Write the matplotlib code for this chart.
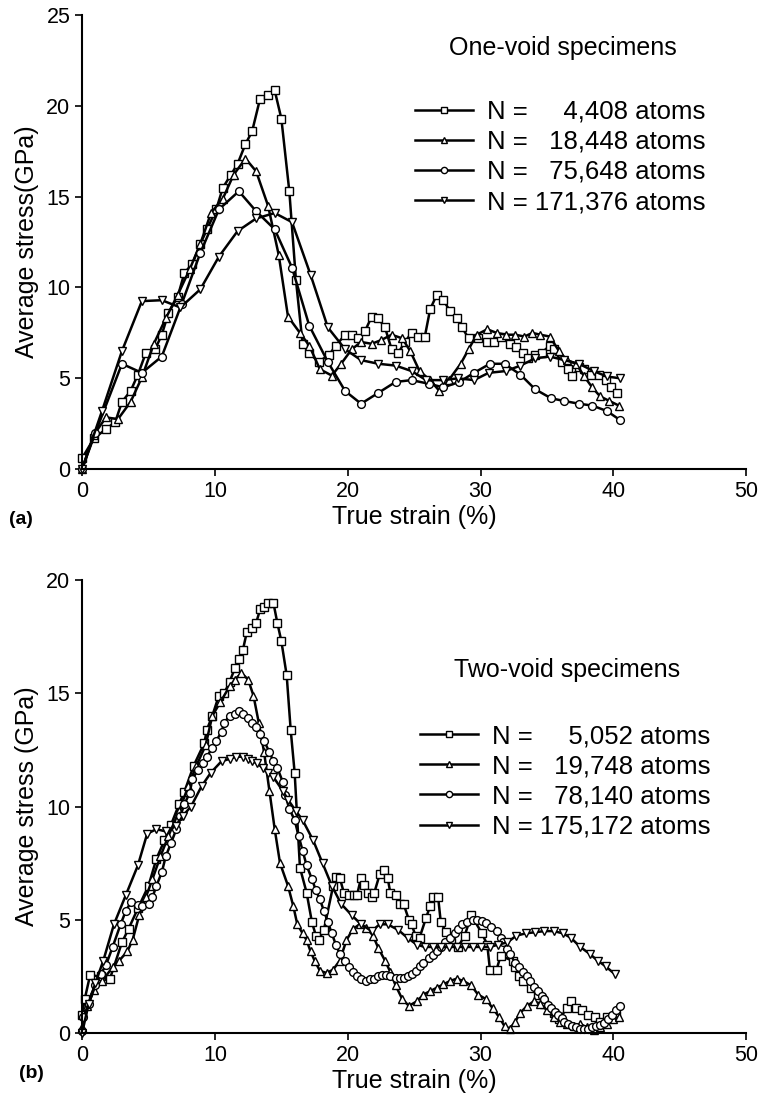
import numpy as np
import matplotlib
matplotlib.use('Agg')
import matplotlib.pyplot as plt

plt.rcParams['font.family'] = ['Liberation Sans', 'DejaVu Sans']

# ---- panel (a): one-void specimens (strain %, stress GPa) ----
a_sq = np.array([
    (0, 0.6), (0.9, 1.7), (1.8, 2.2), (2.5, 2.6), (3.0, 3.7), (3.65, 4.3), (4.2, 5.2), (4.8, 6.4),
    (5.5, 6.6), (6.0, 7.4), (6.5, 8.6), (7.2, 9.5), (7.7, 10.8), (8.3, 11.3), (8.9, 12.4),
    (9.4, 13.2), (10.1, 14.3), (10.6, 15.5), (11.2, 16.2), (11.7, 16.8), (12.3, 17.9),
    (12.8, 18.6), (13.4, 20.4), (14.0, 20.6), (14.5, 20.85), (15.0, 19.3), (15.6, 15.3),
    (16.1, 10.4), (16.6, 6.9), (17.1, 6.4), (17.8, 5.9), (18.6, 6.3), (19.1, 6.8), (19.8, 7.4),
    (20.3, 7.4), (20.8, 7.2), (21.3, 7.6), (21.8, 8.4), (22.3, 8.3), (22.8, 7.8), (23.3, 6.6),
    (23.8, 6.4), (24.3, 7.0), (24.8, 7.5), (25.3, 7.3), (25.8, 7.3), (26.2, 8.8), (26.7, 9.6),
    (27.2, 9.3), (27.7, 8.7), (28.2, 8.3), (28.6, 7.8), (29.1, 7.2), (29.8, 7.2), (30.5, 7.0),
    (31.0, 7.0), (31.5, 7.3), (32.2, 6.9), (32.7, 6.7), (33.2, 6.4), (33.6, 6.1), (34.1, 6.3),
    (34.6, 6.4), (35.2, 6.8), (35.5, 6.6), (36.1, 5.9), (36.6, 5.5), (36.9, 5.1), (37.4, 5.6),
    (37.8, 5.5), (38.3, 5.2), (38.9, 5.2), (39.4, 4.9), (39.8, 4.5), (40.3, 4.2)])
a_tri = np.array([
    (0, 0), (0.9, 1.9), (1.8, 2.85), (2.7, 2.75), (3.65, 3.7), (4.5, 5.05), (5.4, 6.9),
    (6.3, 8.3), (7.2, 9.6), (8.1, 11.0), (8.9, 12.4), (9.7, 14.1), (10.6, 14.9), (11.4, 16.2),
    (12.3, 17.1), (13.1, 16.4), (14.0, 14.5), (14.8, 11.8), (15.5, 8.4), (16.4, 7.5),
    (17.1, 6.8), (17.9, 5.5), (18.8, 5.15), (19.5, 5.8), (20.3, 6.6), (21.0, 7.0), (21.8, 6.9),
    (22.5, 7.1), (23.3, 7.4), (24.1, 7.2), (24.7, 6.5), (25.4, 5.4), (26.2, 4.9), (26.9, 4.3),
    (27.6, 4.9), (28.5, 5.8), (29.1, 6.6), (29.7, 7.4), (30.5, 7.7), (31.2, 7.5), (31.9, 7.4),
    (32.6, 7.4), (33.3, 7.3), (33.9, 7.5), (34.5, 7.4), (35.2, 7.3), (35.9, 6.5), (36.5, 6.0),
    (37.2, 5.8), (37.8, 5.1), (38.4, 4.5), (39.0, 4.0), (39.7, 3.75), (40.4, 3.5)])
a_circ = np.array([
    (0, 0), (1.0, 2.0), (3.0, 5.8), (4.5, 5.3), (6.0, 6.2), (7.5, 9.1), (8.9, 11.9),
    (10.3, 14.3), (11.8, 15.3), (13.1, 14.2), (14.5, 13.2), (15.8, 11.1), (17.1, 7.9),
    (18.5, 5.9), (19.8, 4.3), (21.0, 3.6), (22.3, 4.2), (23.6, 4.8), (24.8, 4.9), (26.1, 4.7),
    (27.2, 4.5), (28.4, 4.8), (29.5, 5.3), (30.7, 5.8), (31.8, 5.8), (33.0, 5.2), (34.1, 4.4),
    (35.3, 3.9), (36.3, 3.75), (37.4, 3.6), (38.4, 3.5), (39.5, 3.2), (40.5, 2.7)])
a_itri = np.array([
    (0, 0), (1.5, 3.2), (3.0, 6.5), (4.5, 9.25), (6.0, 9.3), (7.4, 8.9), (8.9, 9.9),
    (10.3, 11.7), (11.7, 13.1), (13.1, 13.8), (14.5, 14.1), (15.8, 13.6), (17.2, 10.7),
    (18.5, 7.8), (19.8, 6.6), (21.0, 6.0), (22.3, 5.8), (23.6, 5.7), (24.8, 5.4), (25.9, 4.9),
    (27.2, 4.9), (28.3, 5.0), (29.5, 4.9), (30.6, 5.3), (31.9, 5.4), (33.0, 5.7), (34.1, 6.1),
    (35.2, 6.2), (36.3, 6.0), (37.4, 5.8), (38.5, 5.4), (39.5, 5.1), (40.5, 5.0)])
a_labels = ['N =     4,408 atoms', 'N =   18,448 atoms', 'N =   75,648 atoms', 'N = 171,376 atoms']

# ---- panel (b): two-void specimens ----
b_sq = np.array([
    (0, 0.8), (0.2, 1.5), (0.6, 2.55), (1.4, 2.5), (2.1, 2.4), (3.0, 4.0), (3.5, 4.6),
    (4.2, 5.5), (5.0, 6.5), (5.6, 7.7), (6.2, 8.5), (6.7, 9.2), (7.3, 10.1), (7.7, 10.65),
    (8.4, 11.8), (9.2, 12.8), (9.4, 13.4), (9.8, 14.0), (10.3, 14.9), (10.7, 15.0),
    (11.1, 15.5), (11.5, 16.1), (11.8, 16.5), (12.1, 16.9), (12.4, 17.7), (12.8, 17.9),
    (13.1, 18.1), (13.4, 18.7), (13.7, 18.8), (14.0, 19.0), (14.4, 19.0), (14.7, 18.1),
    (15.0, 17.3), (15.4, 15.8), (15.7, 13.4), (16.0, 11.5), (16.4, 7.3), (16.9, 6.2),
    (17.3, 4.9), (17.6, 4.3), (17.8, 4.1), (18.2, 4.55), (18.9, 6.5), (19.1, 6.9), (19.4, 6.85),
    (19.7, 6.2), (20.1, 6.1), (20.5, 6.1), (20.7, 6.1), (21.0, 6.85), (21.2, 6.55), (21.5, 6.2),
    (21.8, 6.0), (22.0, 6.2), (22.4, 7.0), (22.7, 7.2), (23.0, 6.85), (23.2, 6.2), (23.6, 6.1),
    (23.9, 5.7), (24.2, 5.7), (24.6, 5.0), (24.8, 4.8), (25.1, 4.3), (25.4, 4.2), (25.9, 5.1),
    (26.2, 5.6), (26.4, 6.0), (26.8, 6.0), (27.0, 4.9), (27.4, 4.45), (27.8, 4.0), (28.3, 3.8),
    (28.8, 4.3), (29.3, 5.2), (30.1, 4.4), (30.5, 3.9), (30.7, 2.8), (31.2, 2.8), (31.5, 3.4),
    (32.4, 3.2), (32.6, 2.9), (32.9, 2.5), (33.2, 2.3), (33.8, 2.0), (34.3, 1.7), (34.8, 1.3),
    (35.5, 0.9), (35.9, 0.6), (36.5, 1.1), (36.8, 1.4), (37.2, 1.1), (37.6, 1.0), (38.1, 0.8),
    (38.6, 0.7), (39.0, 0.5), (39.5, 0.7), (40.2, 0.8)])
b_tri = np.array([
    (0, 0.25), (0.4, 1.2), (0.9, 1.9), (1.5, 2.3), (2.3, 2.9), (2.8, 3.2), (3.4, 3.6),
    (3.8, 4.1), (4.3, 5.2), (4.8, 6.0), (5.3, 6.8), (5.9, 7.8), (6.5, 8.7), (7.3, 9.8),
    (8.0, 10.9), (8.6, 11.8), (9.3, 12.7), (9.8, 14.0), (10.4, 14.6), (11.1, 15.3),
    (11.5, 15.6), (12.0, 15.9), (12.5, 15.6), (12.9, 14.9), (13.3, 13.7), (13.7, 12.4),
    (14.1, 10.7), (14.5, 9.0), (14.9, 7.5), (15.5, 6.5), (15.9, 5.6), (16.2, 4.8), (16.6, 4.4),
    (16.9, 4.1), (17.2, 3.6), (17.5, 3.2), (17.9, 2.75), (18.4, 2.65), (18.9, 2.8), (19.4, 3.2),
    (19.9, 4.1), (20.4, 4.6), (20.9, 4.8), (21.4, 4.65), (21.9, 4.3), (22.3, 3.75), (22.8, 3.2),
    (23.2, 2.7), (23.6, 2.1), (24.1, 1.5), (24.6, 1.2), (25.2, 1.4), (25.7, 1.7), (26.2, 1.85),
    (26.7, 2.0), (27.2, 2.15), (27.7, 2.3), (28.2, 2.4), (28.7, 2.3), (29.3, 2.1), (29.8, 1.7),
    (30.4, 1.5), (30.9, 1.1), (31.4, 0.7), (31.8, 0.3), (32.2, 0.2), (32.6, 0.5), (33.0, 0.9),
    (33.5, 1.2), (34.0, 1.4), (34.5, 1.3), (35.0, 1.0), (35.5, 0.7), (36.0, 0.5), (36.5, 0.4),
    (37.0, 0.3), (37.5, 0.4), (38.0, 0.25), (38.5, 0.15), (39.0, 0.25), (39.5, 0.4),
    (40.0, 0.6), (40.4, 0.7)])
b_circ = np.array([
    (0, 0.1), (0.1, 0.7), (0.5, 1.3), (1.0, 2.1), (1.4, 2.6), (1.8, 3.0), (2.3, 3.8),
    (2.9, 4.8), (3.3, 5.4), (3.7, 5.8), (4.2, 5.65), (4.5, 5.6), (5.0, 5.7), (5.3, 6.0),
    (5.6, 6.5), (6.0, 7.1), (6.3, 7.8), (6.7, 8.4), (7.1, 9.0), (7.4, 9.6), (7.7, 10.1),
    (8.1, 10.6), (8.3, 11.2), (8.7, 11.6), (9.1, 11.9), (9.4, 12.2), (9.8, 12.6), (10.1, 12.9),
    (10.5, 13.3), (10.7, 13.7), (11.1, 14.0), (11.5, 14.1), (11.8, 14.2), (12.1, 14.1),
    (12.5, 13.9), (12.8, 13.7), (13.1, 13.5), (13.4, 13.2), (13.7, 12.9), (14.1, 12.4),
    (14.4, 12.0), (14.7, 11.7), (15.1, 11.1), (15.3, 10.5), (15.6, 9.9), (16.0, 9.4),
    (16.3, 8.7), (16.6, 8.05), (16.9, 7.4), (17.3, 6.8), (17.6, 6.3), (17.9, 5.9), (18.2, 5.4),
    (18.5, 4.9), (18.8, 4.4), (19.1, 3.9), (19.4, 3.5), (19.8, 3.2), (20.1, 2.9), (20.4, 2.7),
    (20.7, 2.5), (21.0, 2.4), (21.4, 2.3), (21.7, 2.4), (22.0, 2.4), (22.3, 2.5), (22.6, 2.55),
    (22.9, 2.55), (23.2, 2.5), (23.6, 2.45), (23.9, 2.45), (24.2, 2.45), (24.5, 2.5),
    (24.8, 2.6), (25.1, 2.75), (25.4, 2.95), (25.7, 3.1), (26.1, 3.3), (26.4, 3.45), (26.7, 3.6),
    (27.0, 3.8), (27.3, 4.0), (27.7, 4.2), (28.1, 4.4), (28.3, 4.6), (28.6, 4.8), (29.0, 4.9),
    (29.4, 5.0), (29.7, 5.0), (30.1, 4.95), (30.4, 4.85), (30.8, 4.7), (31.2, 4.5), (31.5, 4.2),
    (31.7, 4.0), (32.0, 3.7), (32.2, 3.5), (32.6, 3.1), (32.9, 2.9), (33.2, 2.7), (33.5, 2.5),
    (33.7, 2.3), (34.0, 2.05), (34.3, 1.85), (34.6, 1.65), (34.8, 1.5), (35.1, 1.25),
    (35.3, 1.1), (35.6, 0.95), (35.8, 0.8), (36.1, 0.65), (36.3, 0.5), (36.6, 0.4), (36.9, 0.3),
    (37.2, 0.25), (37.5, 0.2), (37.8, 0.2), (38.1, 0.2), (38.4, 0.25), (38.7, 0.3), (39.0, 0.35),
    (39.3, 0.45), (39.6, 0.6), (39.9, 0.8), (40.2, 1.0), (40.5, 1.2)])
b_itri = np.array([
    (0, 0), (0.5, 1.3), (1.0, 2.2), (1.6, 3.2), (2.4, 4.8), (3.3, 6.1), (4.2, 7.4), (4.9, 8.8),
    (5.6, 9.0), (6.3, 8.9), (7.1, 9.15), (7.6, 9.6), (8.2, 10.0), (9.0, 10.9), (9.7, 11.5),
    (10.5, 12.0), (11.1, 12.1), (11.6, 12.2), (12.1, 12.2), (12.5, 12.1), (12.8, 12.0),
    (13.2, 11.9), (13.6, 11.7), (14.0, 11.5), (14.4, 11.3), (15.1, 10.7), (15.5, 10.3),
    (16.1, 9.8), (16.6, 9.4), (17.4, 8.5), (18.1, 7.5), (18.8, 6.5), (19.5, 5.7), (20.3, 5.2),
    (21.0, 4.8), (21.8, 4.5), (22.4, 4.8), (23.0, 4.8), (23.8, 4.55), (24.5, 4.2), (25.2, 3.9),
    (25.8, 3.8), (26.4, 3.8), (27.0, 3.8), (27.6, 3.8), (28.2, 3.8), (28.8, 3.8), (29.4, 3.8),
    (30.0, 3.8), (30.7, 3.8), (31.3, 3.9), (32.0, 4.0), (32.7, 4.3), (33.4, 4.4), (34.1, 4.45),
    (34.8, 4.5), (35.5, 4.5), (36.2, 4.4), (36.8, 4.2), (37.5, 3.8), (38.2, 3.5), (38.8, 3.2),
    (39.4, 2.95), (40.1, 2.6)])
b_labels = ['N =     5,052 atoms', 'N =   19,748 atoms', 'N =   78,140 atoms', 'N = 175,172 atoms']

markers = ['s', '^', 'o', 'v']

fig = plt.figure(figsize=(7.6, 11.09), dpi=100)
ax_a = fig.add_axes([0.108, 0.577, 0.874, 0.4094])
ax_b = fig.add_axes([0.108, 0.0685, 0.874, 0.4085])


def draw_panel(ax, series, labels, ymax, title, ylabel, title_xy, leg_xy):
    handles = []
    for data, m in zip(series, markers):
        h, = ax.plot(data[:, 0], data[:, 1], color='black', lw=1.8, marker=m, ms=5.6,
                     mfc='white', mec='black', mew=1.0, clip_on=False)
        handles.append(h)
    ax.set_xlim(0, 50)
    ax.set_ylim(0, ymax)
    ax.set_xticks(range(0, 51, 10))
    ax.set_yticks(range(0, ymax + 1, 5))
    for s in ['top', 'right']:
        ax.spines[s].set_visible(False)
    for s in ['left', 'bottom']:
        ax.spines[s].set_linewidth(1.5)
    ax.tick_params(direction='out', length=5, width=1.2, labelsize=15.5)
    ax.set_xlabel('True strain (%)', fontsize=18, labelpad=2)
    ax.set_ylabel(ylabel, fontsize=18, labelpad=5)
    ax.text(title_xy[0], title_xy[1], title, transform=ax.transAxes,
            ha='center', va='center', fontsize=18)
    ax.legend(handles, labels, loc='upper left', bbox_to_anchor=leg_xy, frameon=False,
              fontsize=18.5, handlelength=2.25, handletextpad=0.55, markerscale=0.8,
              labelspacing=0.24, borderpad=0, borderaxespad=0)


draw_panel(ax_a, [a_sq, a_tri, a_circ, a_itri], a_labels, 25,
           'One-void specimens', 'Average stress(GPa)', (0.724, 0.927), (0.501, 0.814))
draw_panel(ax_b, [b_sq, b_tri, b_circ, b_itri], b_labels, 20,
           'Two-void specimens', 'Average stress (GPa)', (0.73, 0.801), (0.509, 0.682))

fig.text(0.012, 0.532, '(a)', fontsize=14, fontweight='bold', va='center')
fig.text(0.025, 0.032, '(b)', fontsize=14, fontweight='bold', va='center')

fig.savefig('out.png', dpi=100)
